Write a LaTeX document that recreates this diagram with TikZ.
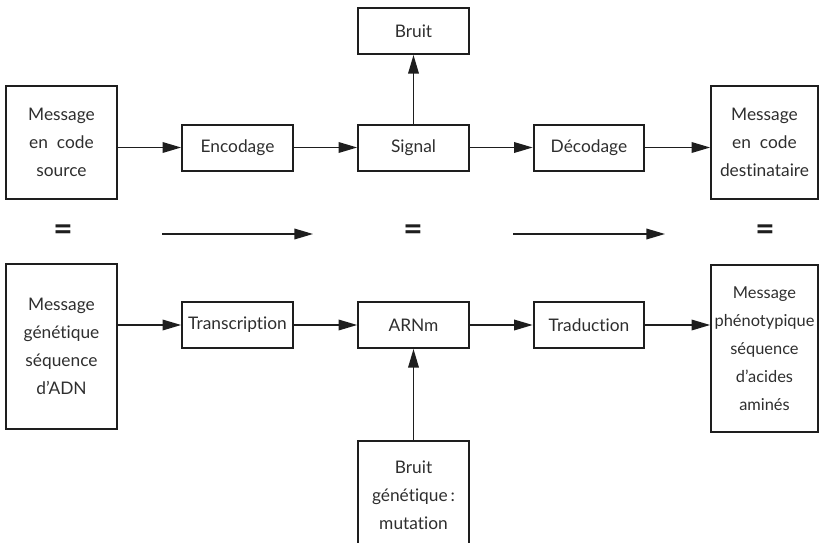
\documentclass[tikz,border=0pt]{standalone}
\usepackage{fontspec}
\setmainfont{Lato}[Ligatures={NoCommon,NoContextual}]
\usetikzlibrary{arrows.meta,positioning}
\definecolor{inkgray}{HTML}{2E2E2E}
\definecolor{linegray}{HTML}{1E1E1E}
\tikzset{
	box/.style={draw=linegray, line width=1.5pt, text=inkgray, align=center,
		minimum width=83pt, minimum height=34.5pt, inner sep=1pt,
		font=\fontsize{13}{21}\selectfont},
	bigbox/.style={box, minimum width=83pt},
	arrow/.style={draw=linegray, line width=1.1pt, -{Triangle[length=14pt,width=8pt]}},
	equal/.style={text=linegray, font=\fontsize{25}{25}\selectfont\bfseries}
}
\begin{document}
\begin{tikzpicture}[x=0.75pt, y=-0.75pt]
			%%%%% START %%%%%
			\useasboundingbox (0, 0) rectangle (819, 543);
			
			% code du message
			\node[bigbox, minimum height=84.75pt] (src) at (61.5, 142.5) {Message\\en\ \ code\\source};
			\node[box] (enc) at (237.5, 147.5) {Encodage};
			\node[box] (sig) at (413.5, 147.5) {Signal};
			\node[box] (bruit) at (413.5, 31) {Bruit};
			\node[box] (dec) at (589, 147.5) {Décodage};
			\node[bigbox, minimum width=80pt, minimum height=84.75pt] (dst) at (764.5, 142.5) {Message\\en\ \ code\\destinataire};
			
			\draw[arrow] (src.east |- enc) -- (enc);
			\draw[arrow] (enc) -- (sig);
			\draw[arrow] (sig) -- (dec);
			\draw[arrow] (dec) -- (dst.west |- dec);
			\draw[arrow] (sig) -- (bruit);
			
			% correspondance
			\node[equal] (eq1) at (63, 233) {=};
			\node[equal] (eq2) at (413, 233) {=};
			\node[equal] (eq3) at (765, 233) {=};
			\coordinate (l1) at (162, 234);
			\coordinate (r1) at (313, 234);
			\coordinate (l2) at (513, 234);
			\coordinate (r2) at (665, 234);
			\draw[arrow] (l1) -- (r1);
			\draw[arrow] (l2) -- (r2);
			
			% code genetique
			\node[bigbox, minimum height=123.75pt] (adn) at (61.5, 346.5) {Message\\génétique\\séquence\\d'ADN};
			\node[box] (trc) at (237.5, 325) {Transcription};
			\node[box] (arn) at (413.5, 325) {ARNm};
			\node[box] (trd) at (589, 325) {Traduction};
			\node[bigbox, minimum width=80pt, minimum height=125.25pt, inner sep=0pt,
				font=\fontsize{12.3}{21}\selectfont] (phe) at (764.5, 348.5) {Message\\phénotypique\\séquence\\d'acides\\aminés};
			\node[box, minimum height=81pt] (mut) at (413.5, 495) {Bruit\\génétique\,:\\mutation};
			
			\draw[arrow] (adn.east |- trc) -- (trc);
			\draw[arrow] (trc) -- (arn);
			\draw[arrow] (arn) -- (trd);
			\draw[arrow] (trd) -- (phe.west |- trd);
			\draw[arrow] (mut) -- (arn);
			%%%%% END %%%%%
		\end{tikzpicture}
\end{document}
